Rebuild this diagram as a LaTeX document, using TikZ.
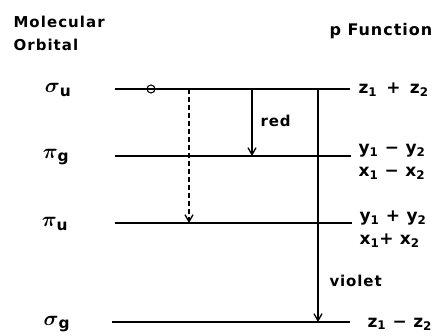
\documentclass[tikz,border=0pt]{standalone}
\usepackage{bm}
\usepackage{fontspec}
\setmainfont{DejaVu Sans}
\newfontfamily\headfont{DejaVu Sans Bold}[LetterSpace=6]
\newfontfamily\moleculefont{DejaVu Sans Bold}[LetterSpace=7]
\newfontfamily\labfont{DejaVu Sans Bold}[LetterSpace=3]
\usetikzlibrary{arrows.meta}

\begin{document}
\begin{tikzpicture}[x=1pt,y=-1pt,
  level/.style={line width=1.3pt},
  trans/.style={line width=1.3pt,-{Straight Barb[length=7pt,width=8pt]}},
  orb/.style={font=\labfont\fontsize{22}{26}\selectfont},
  pfun/.style={anchor=west, align=left, font=\labfont\fontsize{17}{23}\selectfont}]
\useasboundingbox (0,0) rectangle (433,335);

% headings
\node[anchor=west, align=left, font=\moleculefont\fontsize{15}{23}\selectfont] (mohead) at (10,33) {Molecular\\Orbital};
\node[anchor=west, font=\headfont\fontsize{16}{19}\selectfont] (pfhead) at (326,31) {p Function};

% orbital names
\node[orb] (su) at (58,90) {$\bm\sigma$\textsubscript{u}};
\node[orb] (pg) at (56,157) {$\bm\pi$\textsubscript{g}};
\node[orb] (pu) at (55,224) {$\bm\pi$\textsubscript{u}};
\node[orb] (sg) at (57,324) {$\bm\sigma$\textsubscript{g}};

% energy levels
\coordinate (su-l) at (115,89);  \coordinate (su-r) at (350,89);
\coordinate (pg-l) at (115,156); \coordinate (pg-r) at (351,156);
\coordinate (pu-l) at (115,223); \coordinate (pu-r) at (352,223);
\coordinate (sg-l) at (112,322); \coordinate (sg-r) at (350,322);
\draw[level] (su-l) -- (su-r);
\draw[level] (pg-l) -- (pg-r);
\draw[level] (pu-l) -- (pu-r);
\draw[level] (sg-l) -- (sg-r);
\draw[line width=1.1pt] (151,89) circle (4);

% p functions
\node[pfun] (fsu) at (355,90) {z\textsubscript{1} \,+\, z\textsubscript{2}};
\node[pfun] (fpg) at (355,162) {y\textsubscript{1} − y\textsubscript{2}\\x\textsubscript{1} − x\textsubscript{2}};
\node[pfun] (fpu) at (356,229) {y\textsubscript{1} + y\textsubscript{2}\\x\textsubscript{1}+ x\textsubscript{2}};
\node[pfun] (fsg) at (364,324) {z\textsubscript{1} − z\textsubscript{2}};

% transitions
\coordinate (da) at (189,89);  \coordinate (db) at (189,223);
\coordinate (ra) at (252,89);  \coordinate (rb) at (252,156);
\coordinate (va) at (318,89);  \coordinate (vb) at (318,322);
\draw[trans, dash pattern=on 5pt off 3pt] (da) -- (db);
\draw[trans] (ra) -- (rb);
\draw[trans] (va) -- (vb);
\node[anchor=west, font=\headfont\fontsize{15}{18}\selectfont] (red) at (257,121) {red};
\node[anchor=west, font=\headfont\fontsize{15}{18}\selectfont] (violet) at (326,281) {violet};
\end{tikzpicture}
\end{document}
